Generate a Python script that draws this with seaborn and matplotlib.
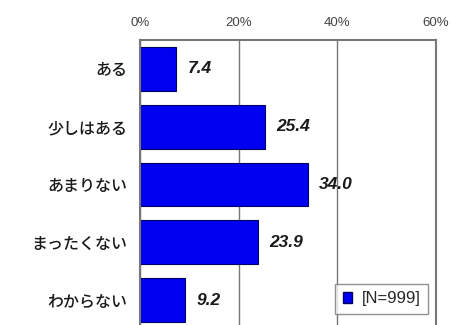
import matplotlib
matplotlib.use("Agg")
import matplotlib.pyplot as plt
from matplotlib.patches import Patch
import seaborn as sns
import pandas as pd

categories = ["ある", "少しはある", "あまりない", "まったくない", "わからない"]
values = [7.4, 25.4, 34.0, 23.9, 9.2]
x_ticks = [0, 20, 40, 60]
x_tick_labels = ["0%", "20%", "40%", "60%"]
legend_label = "[N=999]"

sns.set_style("white")
plt.rcParams["font.family"] = ["Noto Sans CJK JP", "DejaVu Sans"]

df = pd.DataFrame({"category": categories, "value": values})

fig = plt.figure(figsize=(4.52, 3.25), dpi=100)
ax = fig.add_axes([0.3097, -0.0123, 0.655, 0.889])

sns.barplot(data=df, x="value", y="category", orient="h", ax=ax,
            color="#0000F0", width=0.76, edgecolor="#000060", linewidth=0.8,
            saturation=1)

ax.set_xlim(0, 60)
ax.set_ylim(4.5, -0.5)
ax.set_xticks(x_ticks)
ax.set_xticklabels(x_tick_labels, fontsize=9.5, color="#444444",
                   family=["Liberation Sans", "DejaVu Sans"])
ax.xaxis.tick_top()
ax.tick_params(axis="x", length=0, pad=8)
ax.set_yticks(range(len(categories)))
ax.set_yticklabels(categories, fontsize=11.5, color="#1a1a1a", fontweight="medium")
ax.tick_params(axis="y", length=0, pad=9)
ax.set_xlabel("")
ax.set_ylabel("")

ax.grid(axis="x", color="#777777", linewidth=1.0)
ax.set_axisbelow(True)
for s in ax.spines.values():
    s.set_color("#777777")
    s.set_linewidth(1.5)

for i, v in enumerate(values):
    ax.annotate(f"{v:.1f}", xy=(v, i), xytext=(8, 0), textcoords="offset points",
                va="center", ha="left", fontsize=12.5, fontweight="bold",
                fontstyle="italic", color="#1a1a1a",
                family=["Liberation Sans", "DejaVu Sans"])

handle = Patch(facecolor="#0000F0", edgecolor="#000060")
leg = ax.legend([handle], [legend_label], loc="lower right",
                bbox_to_anchor=(0.99, 0.035), frameon=True, fancybox=False,
                handlelength=0.55, handleheight=0.55, handletextpad=0.6,
                borderpad=0.45, borderaxespad=0.3,
                prop={"family": ["Liberation Sans", "DejaVu Sans"], "size": 12})
leg.get_frame().set_edgecolor("#777777")
leg.get_frame().set_linewidth(1.0)

fig.savefig("out.png", dpi=100)
